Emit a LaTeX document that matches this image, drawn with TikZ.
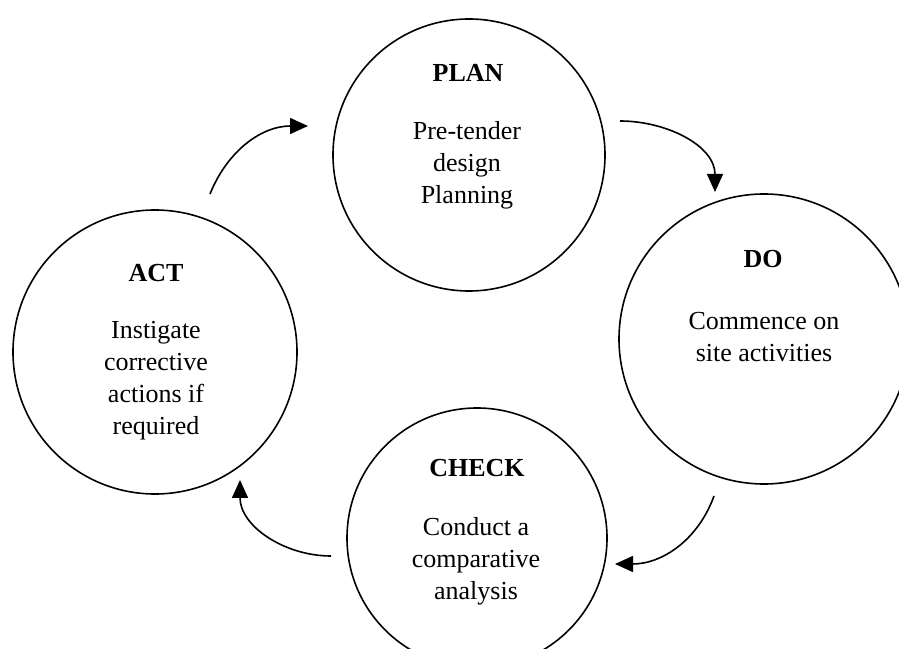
\documentclass[tikz,border=0pt]{standalone}
\usepackage{fontspec}
\setmainfont{Liberation Serif}
\usepackage{tikz}
\usetikzlibrary{arrows.meta}

\tikzset{
	phase/.style={draw, circle, inner sep=0pt, line width=1.6pt},
	phasetitle/.style={font=\fontsize{26}{32}\selectfont\bfseries, inner sep=0pt},
	phasetext/.style={font=\fontsize{26}{32}\selectfont, align=center, inner sep=0pt},
	cycle/.style={line width=1.6pt, -{Triangle[length=18pt,width=16pt]}}
}

\begin{document}
\begin{tikzpicture}[x=1pt, y=1pt]
	
	\useasboundingbox (0,0) rectangle (899,648);
	\clip (0,0) rectangle (899,648);
	
	\node[phase, minimum size=272pt] (plan) at (469,493) {};
	\node[phase, minimum size=290pt] (do) at (764,309) {};
	\node[phase, minimum size=260pt] (check) at (477,110) {};
	\node[phase, minimum size=284pt] (act) at (155,296) {};
	
	\node[phasetitle] (plantitle) at (468,575) {PLAN};
	\node[phasetext] (plantext) at (467,483) {Pre-tender\\design\\Planning};
	\node[phasetitle] (dotitle) at (763,389) {DO};
	\node[phasetext] (dotext) at (764,311) {Commence on\\site activities};
	\node[phasetitle] (checktitle) at (477,180) {CHECK};
	\node[phasetext] (checktext) at (476,87) {Conduct a\\comparative\\analysis};
	\node[phasetitle] (acttitle) at (156,375) {ACT};
	\node[phasetext] (acttext) at (156,267) {Instigate\\corrective\\actions if\\required};
	
	\coordinate (a) at (210,454);
	\coordinate (b) at (308,522);
	\coordinate (c) at (620,527);
	\coordinate (d) at (715,456);
	\coordinate (e) at (714,152);
	\coordinate (f) at (615,84);
	\coordinate (g) at (331,92);
	\coordinate (h) at (240,168);
	
	\draw[cycle] (a) to[out=68, in=180] (b);
	\draw[cycle] (c) to[out=0, in=90] (d);
	\draw[cycle] (e) to[out=-110, in=0] (f);
	\draw[cycle] (g) to[out=180, in=-90] (h);
	
\end{tikzpicture}
\end{document}
